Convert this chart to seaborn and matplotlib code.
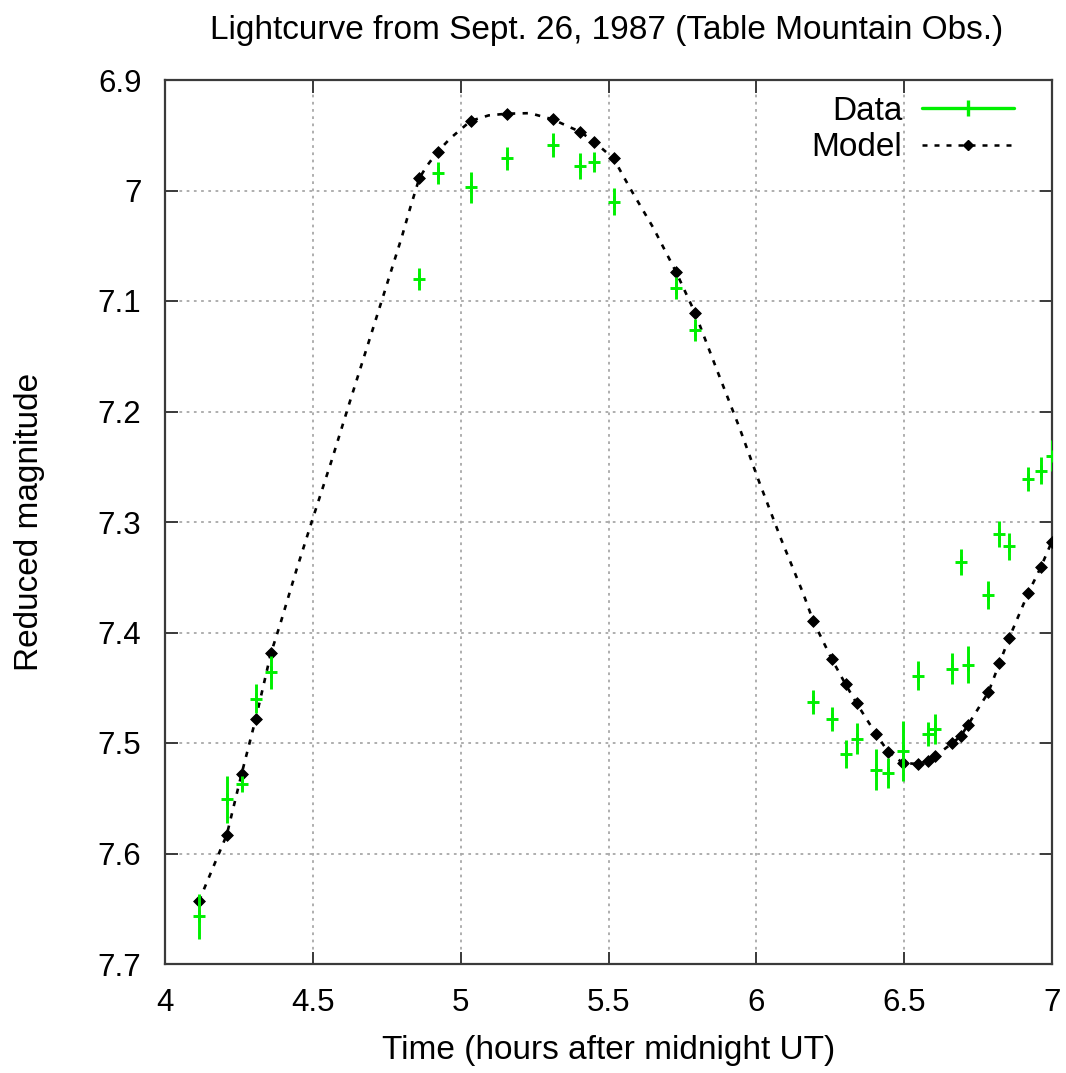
import numpy as np
import matplotlib
matplotlib.use("Agg")
import matplotlib.pyplot as plt
from matplotlib.lines import Line2D
from matplotlib.ticker import FormatStrFormatter
import seaborn as sns

# ---- data ----
data_t = [4.115, 4.209, 4.259, 4.307, 4.358, 4.860, 4.922, 5.034, 5.156, 5.311,
          5.405, 5.452, 5.517, 5.729, 5.793, 6.193, 6.255, 6.302, 6.339, 6.405,
          6.446, 6.495, 6.546, 6.579, 6.605, 6.663, 6.691, 6.715, 6.785, 6.822,
          6.855, 6.920, 6.962, 6.999]
data_m = [7.657, 7.551, 7.537, 7.460, 7.436, 7.080, 6.984, 6.997, 6.971, 6.959,
          6.978, 6.974, 7.010, 7.0885, 7.126, 7.463, 7.478, 7.510, 7.496, 7.524,
          7.527, 7.507, 7.439, 7.492, 7.487, 7.433, 7.336, 7.429, 7.366, 7.311,
          7.322, 7.261, 7.2535, 7.240]
data_err = [0.020, 0.021, 0.0075, 0.013, 0.015, 0.010, 0.010, 0.014, 0.010, 0.011,
            0.012, 0.009, 0.012, 0.010, 0.010, 0.011, 0.011, 0.0125, 0.014, 0.0185,
            0.0136, 0.027, 0.013, 0.011, 0.0136, 0.014, 0.012, 0.0166, 0.0124, 0.012,
            0.012, 0.011, 0.0125, 0.014]
model_m = [7.643, 7.583, 7.528, 7.478, 7.419, 6.989, 6.965, 6.937, 6.9305, 6.9356,
           6.947, 6.956, 6.971, 7.074, 7.111, 7.390, 7.424, 7.447, 7.464, 7.492,
           7.508, 7.518, 7.519, 7.516, 7.512, 7.500, 7.494, 7.484, 7.454, 7.428,
           7.405, 7.364, 7.341, 7.318]
# model curve read between the marked points
curve_t = [4.389, 4.445, 4.502, 4.564, 4.623, 4.682, 4.741, 4.801, 4.829, 4.885,
           4.964, 5.095, 5.234, 5.573, 5.652, 5.869, 5.942, 6.010, 6.083, 6.159]
curve_m = [7.393, 7.343, 7.295, 7.244, 7.193, 7.143, 7.093, 7.042, 7.016, 6.978,
           6.953, 6.932, 6.930, 6.998, 7.034, 7.164, 7.214, 7.264, 7.315, 7.365]

title = "Lightcurve from Sept. 26, 1987 (Table Mountain Obs.)"
xlabel = "Time (hours after midnight UT)"
ylabel = "Reduced magnitude"
xticks = [4, 4.5, 5, 5.5, 6, 6.5, 7]
yticks = [6.9, 7.0, 7.1, 7.2, 7.3, 7.4, 7.5, 7.6, 7.7]

GREEN = "#00f000"
FS_TICK = 22.5
FS = 24

sns.set_theme(style="white")
plt.rcParams["font.family"] = ["Liberation Sans", "DejaVu Sans"]

fig = plt.figure(figsize=(10.66, 10.73), dpi=100)
ax = fig.add_axes([165 / 1066, 1 - 964 / 1073, (1052 - 165) / 1066, (964 - 80) / 1073])

# grid
ax.set_axisbelow(True)
ax.grid(True, color="#a8a8a8", linestyle=(0, (1.5, 2.5)), linewidth=1.3)

# model curve
all_t = list(data_t) + list(curve_t)
all_m = list(model_m) + list(curve_m)
sns.lineplot(x=all_t, y=all_m, sort=True, estimator=None, color="black",
             linewidth=1.9, linestyle=(0, (2.0, 2.8)), ax=ax, zorder=2)
sns.scatterplot(x=data_t, y=model_m, marker="D", s=36, color="black",
                edgecolor="black", linewidth=0.6, ax=ax, zorder=3)

# data with error bars
ax.errorbar(data_t, data_m, yerr=data_err, fmt="none", ecolor=GREEN,
            elinewidth=2.1, capsize=0, zorder=4)
sns.scatterplot(x=data_t, y=data_m, marker="+", s=72, color=GREEN,
                linewidth=2.1, ax=ax, zorder=5)

ax.set_xlim(4, 7)
ax.set_ylim(7.7, 6.9)
ax.set_xticks(xticks)
ax.set_yticks(yticks)
ax.xaxis.set_major_formatter(FormatStrFormatter("%g"))
ax.yaxis.set_major_formatter(FormatStrFormatter("%g"))

for sp in ax.spines.values():
    sp.set_visible(True)
    sp.set_color("#3a3a3a")
    sp.set_linewidth(1.6)

ax.tick_params(axis="both", which="major", direction="in", length=9, width=1.4,
               color="#3a3a3a", top=True, right=True, bottom=True, left=True,
               labelsize=FS_TICK, labelcolor="black", pad=17)

ax.set_xlabel(xlabel, fontsize=FS, color="black")
ax.xaxis.set_label_coords(0.5, (964 - 1050) / 884)
ax.xaxis.label.set_va("center")
ax.set_ylabel(ylabel, fontsize=FS, color="black")
ax.yaxis.set_label_coords((30 - 165) / 887, 0.5)
ax.yaxis.label.set_va("center")

fig.text(607 / 1066, 1 - 31 / 1073, title, ha="center", va="center",
         fontsize=FS, color="black")

handles = [
    Line2D([], [], color=GREEN, lw=2.4, marker="|", markersize=11, markeredgewidth=2.4),
    Line2D([], [], color="black", lw=1.8, linestyle=(0, (2.0, 2.8)), marker="D",
           markersize=5.5),
]
ax.legend(handles, ["Data", "Model"], loc="upper right", frameon=False,
          markerfirst=False, handlelength=2.76, handletextpad=0.6,
          fontsize=FS, labelspacing=0.17, borderpad=0.2, borderaxespad=0.0,
          labelcolor="black",
          bbox_to_anchor=(1 - 31 / 887, 1 - 9 / 884))

fig.savefig("out.png", dpi=100)
